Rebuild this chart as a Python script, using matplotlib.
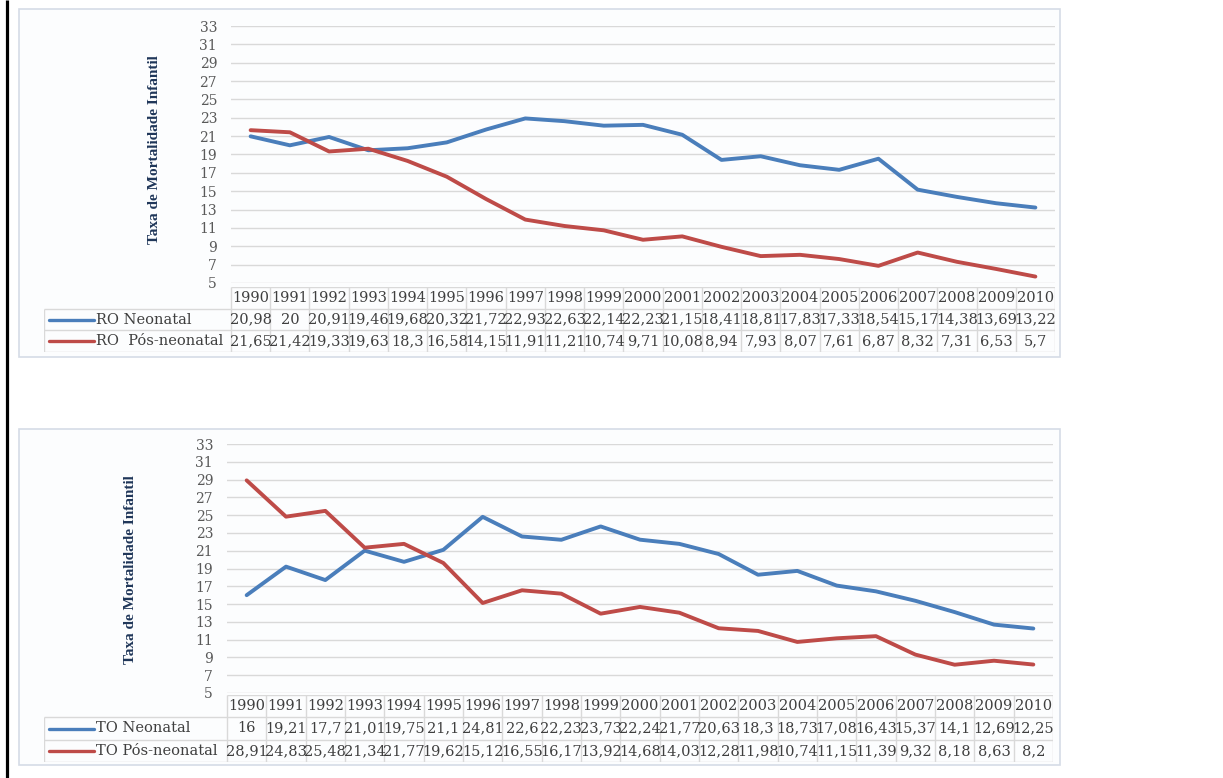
import matplotlib
matplotlib.use("Agg")
import matplotlib.pyplot as plt
from matplotlib.patches import Rectangle

# Mortality rates per 1000 live births, 1990-2010
years = list(range(1990, 2011))

ro_neonatal = [20.98, 20, 20.91, 19.46, 19.68, 20.32, 21.72, 22.93, 22.63, 22.14, 22.23,
               21.15, 18.41, 18.81, 17.83, 17.33, 18.54, 15.17, 14.38, 13.69, 13.22]
ro_pos_neonatal = [21.65, 21.42, 19.33, 19.63, 18.3, 16.58, 14.15, 11.91, 11.21, 10.74, 9.71,
                   10.08, 8.94, 7.93, 8.07, 7.61, 6.87, 8.32, 7.31, 6.53, 5.7]

to_neonatal = [16, 19.21, 17.7, 21.01, 19.75, 21.1, 24.81, 22.6, 22.23, 23.73, 22.24,
               21.77, 20.63, 18.3, 18.73, 17.08, 16.43, 15.37, 14.1, 12.69, 12.25]
to_pos_neonatal = [28.91, 24.83, 25.48, 21.34, 21.77, 19.62, 15.12, 16.55, 16.17, 13.92, 14.68,
                   14.03, 12.28, 11.98, 10.74, 11.15, 11.39, 9.32, 8.18, 8.63, 8.2]

ro_labels = ["RO Neonatal", "RO  Pós-neonatal"]
to_labels = ["TO Neonatal", "TO Pós-neonatal"]
y_ticks = list(range(5, 34, 2))
y_title = "Taxa de Mortalidade Infantil"

BLUE = "#4A7EBB"
RED = "#BE4B48"
GRID = "#D9D9D9"
TXT = "#3F3F3F"

W, H = 1223, 778
fig = plt.figure(figsize=(W / 100, H / 100), dpi=100)


def frac(x0, y0, x1, y1):
    return [x0 / W, 1 - y1 / H, (x1 - x0) / W, (y1 - y0) / H]


# page background: left rule and the two chart frames
bg = fig.add_axes([0, 0, 1, 1])
bg.set_xlim(0, W)
bg.set_ylim(H, 0)
bg.axis("off")
bg.vlines(6.5, 0, H, color="black", lw=2.3)

panels = [
    dict(frame=(19, 9, 1060, 357), plot=(231, 26, 1055, 283), table=(44, 287, 1055, 352),
         ylab=(155, 150), series=(ro_neonatal, ro_pos_neonatal), labels=ro_labels),
    dict(frame=(19, 429, 1060, 765), plot=(227, 444, 1053, 693), table=(44, 695, 1053, 762),
         ylab=(130, 570), series=(to_neonatal, to_pos_neonatal), labels=to_labels),
]

serif = "DejaVu Serif"
n = len(years)
x = list(range(n))

for p in panels:
    fx0, fy0, fx1, fy1 = p["frame"]
    bg.add_patch(Rectangle((fx0, fy0), fx1 - fx0, fy1 - fy0, facecolor="#FCFDFE",
                           edgecolor="#D5DCE6", lw=1.2))
    bg.text(p["ylab"][0], p["ylab"][1], y_title, rotation=90, ha="center", va="center",
            family="Liberation Serif", fontweight="bold", fontsize=11, color="#1F3659")

    # line chart
    ax = fig.add_axes(frac(*p["plot"]))
    ax.patch.set_alpha(0)
    for vals, c in zip(p["series"], (BLUE, RED)):
        ax.plot(x, vals, color=c, lw=2.8, solid_capstyle="round", solid_joinstyle="round")
    ax.set_xlim(-0.5, n - 0.5)
    ax.set_ylim(5, 33)
    ax.set_yticks(y_ticks)
    ax.set_xticks([])
    ax.grid(axis="y", color=GRID, lw=1)
    ax.set_axisbelow(True)
    for s in ax.spines.values():
        s.set_visible(False)
    ax.tick_params(axis="y", length=0, pad=10, labelsize=10, labelcolor="#595959")
    for lab in ax.get_yticklabels():
        lab.set_family(serif)

    # data table below the chart, columns aligned with the years
    tx0, ty0, tx1, ty1 = p["table"]
    colw = (p["plot"][2] - p["plot"][0]) / n
    lead = (p["plot"][0] - tx0) / colw
    left = -0.5 - lead
    tab = fig.add_axes(frac(tx0, ty0, tx1, ty1))
    tab.set_xlim(left, n - 0.5)
    tab.set_ylim(3, 0)
    tab.axis("off")
    tab.hlines(0, -0.5, n - 0.5, color=GRID, lw=1)
    tab.hlines([1, 2, 3], left, n - 0.5, color=GRID, lw=1)
    tab.vlines([i - 0.5 for i in range(n + 1)], 0, 3, color=GRID, lw=1)
    tab.vlines(left, 1, 3, color=GRID, lw=1)

    for i, yr in enumerate(years):
        tab.text(i, 0.5, str(yr), ha="center", va="center", family=serif,
                 fontsize=10.5, color=TXT)
    for r, (vals, c, name) in enumerate(zip(p["series"], (BLUE, RED), p["labels"]), start=1):
        for i, v in enumerate(vals):
            tab.text(i, r + 0.5, f"{v:g}".replace(".", ","), ha="center", va="center",
                     family=serif, fontsize=10.5, color=TXT)
        tab.plot([left + 0.12, left + 1.28], [r + 0.5, r + 0.5], color=c, lw=2.4,
                 solid_capstyle="round")
        tab.text(left + 1.33, r + 0.5, name, ha="left", va="center", family=serif,
                 fontsize=10.5, color=TXT)

fig.savefig("out.png", dpi=100)
